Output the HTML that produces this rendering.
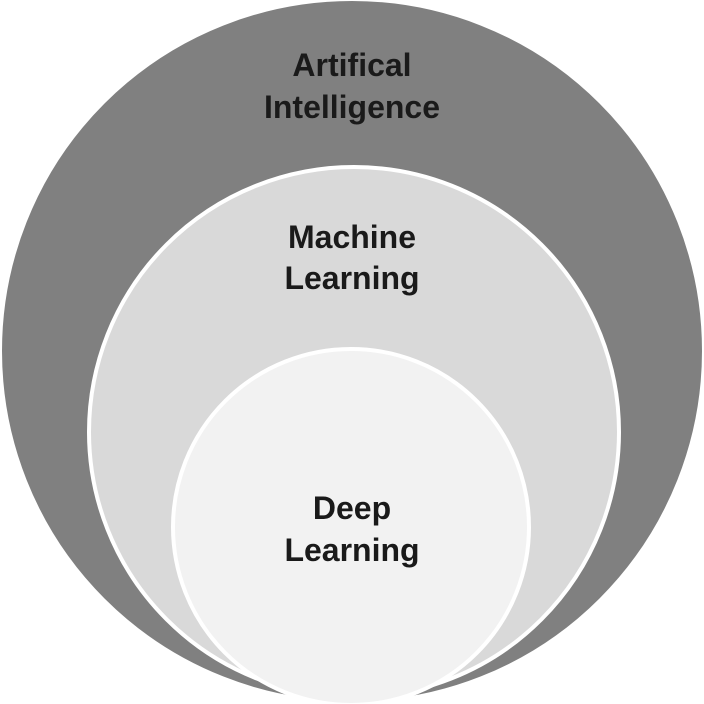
<!DOCTYPE html>
<html><head><style>
html,body{margin:0;padding:0;background:#fff;width:704px;height:704px;overflow:hidden}
text{font-family:"Liberation Sans",sans-serif;font-weight:bold;font-size:32px;fill:#1a1a1a;text-anchor:middle}
</style></head><body>
<svg width="704" height="704" viewBox="0 0 704 704">
<circle cx="352" cy="351" r="351" fill="#808080" stroke="#fff" stroke-width="2"/>
<circle cx="354" cy="432" r="265" fill="#d9d9d9" stroke="#fff" stroke-width="4"/>
<circle cx="351" cy="527" r="178" fill="#f2f2f2" stroke="#fff" stroke-width="4"/>
<text x="352" y="76">Artifical</text>
<text x="352" y="118">Intelligence</text>
<text x="352" y="248">Machine</text>
<text x="352" y="289">Learning</text>
<text x="352" y="519">Deep</text>
<text x="352" y="561">Learning</text>
</svg>
</body></html>
